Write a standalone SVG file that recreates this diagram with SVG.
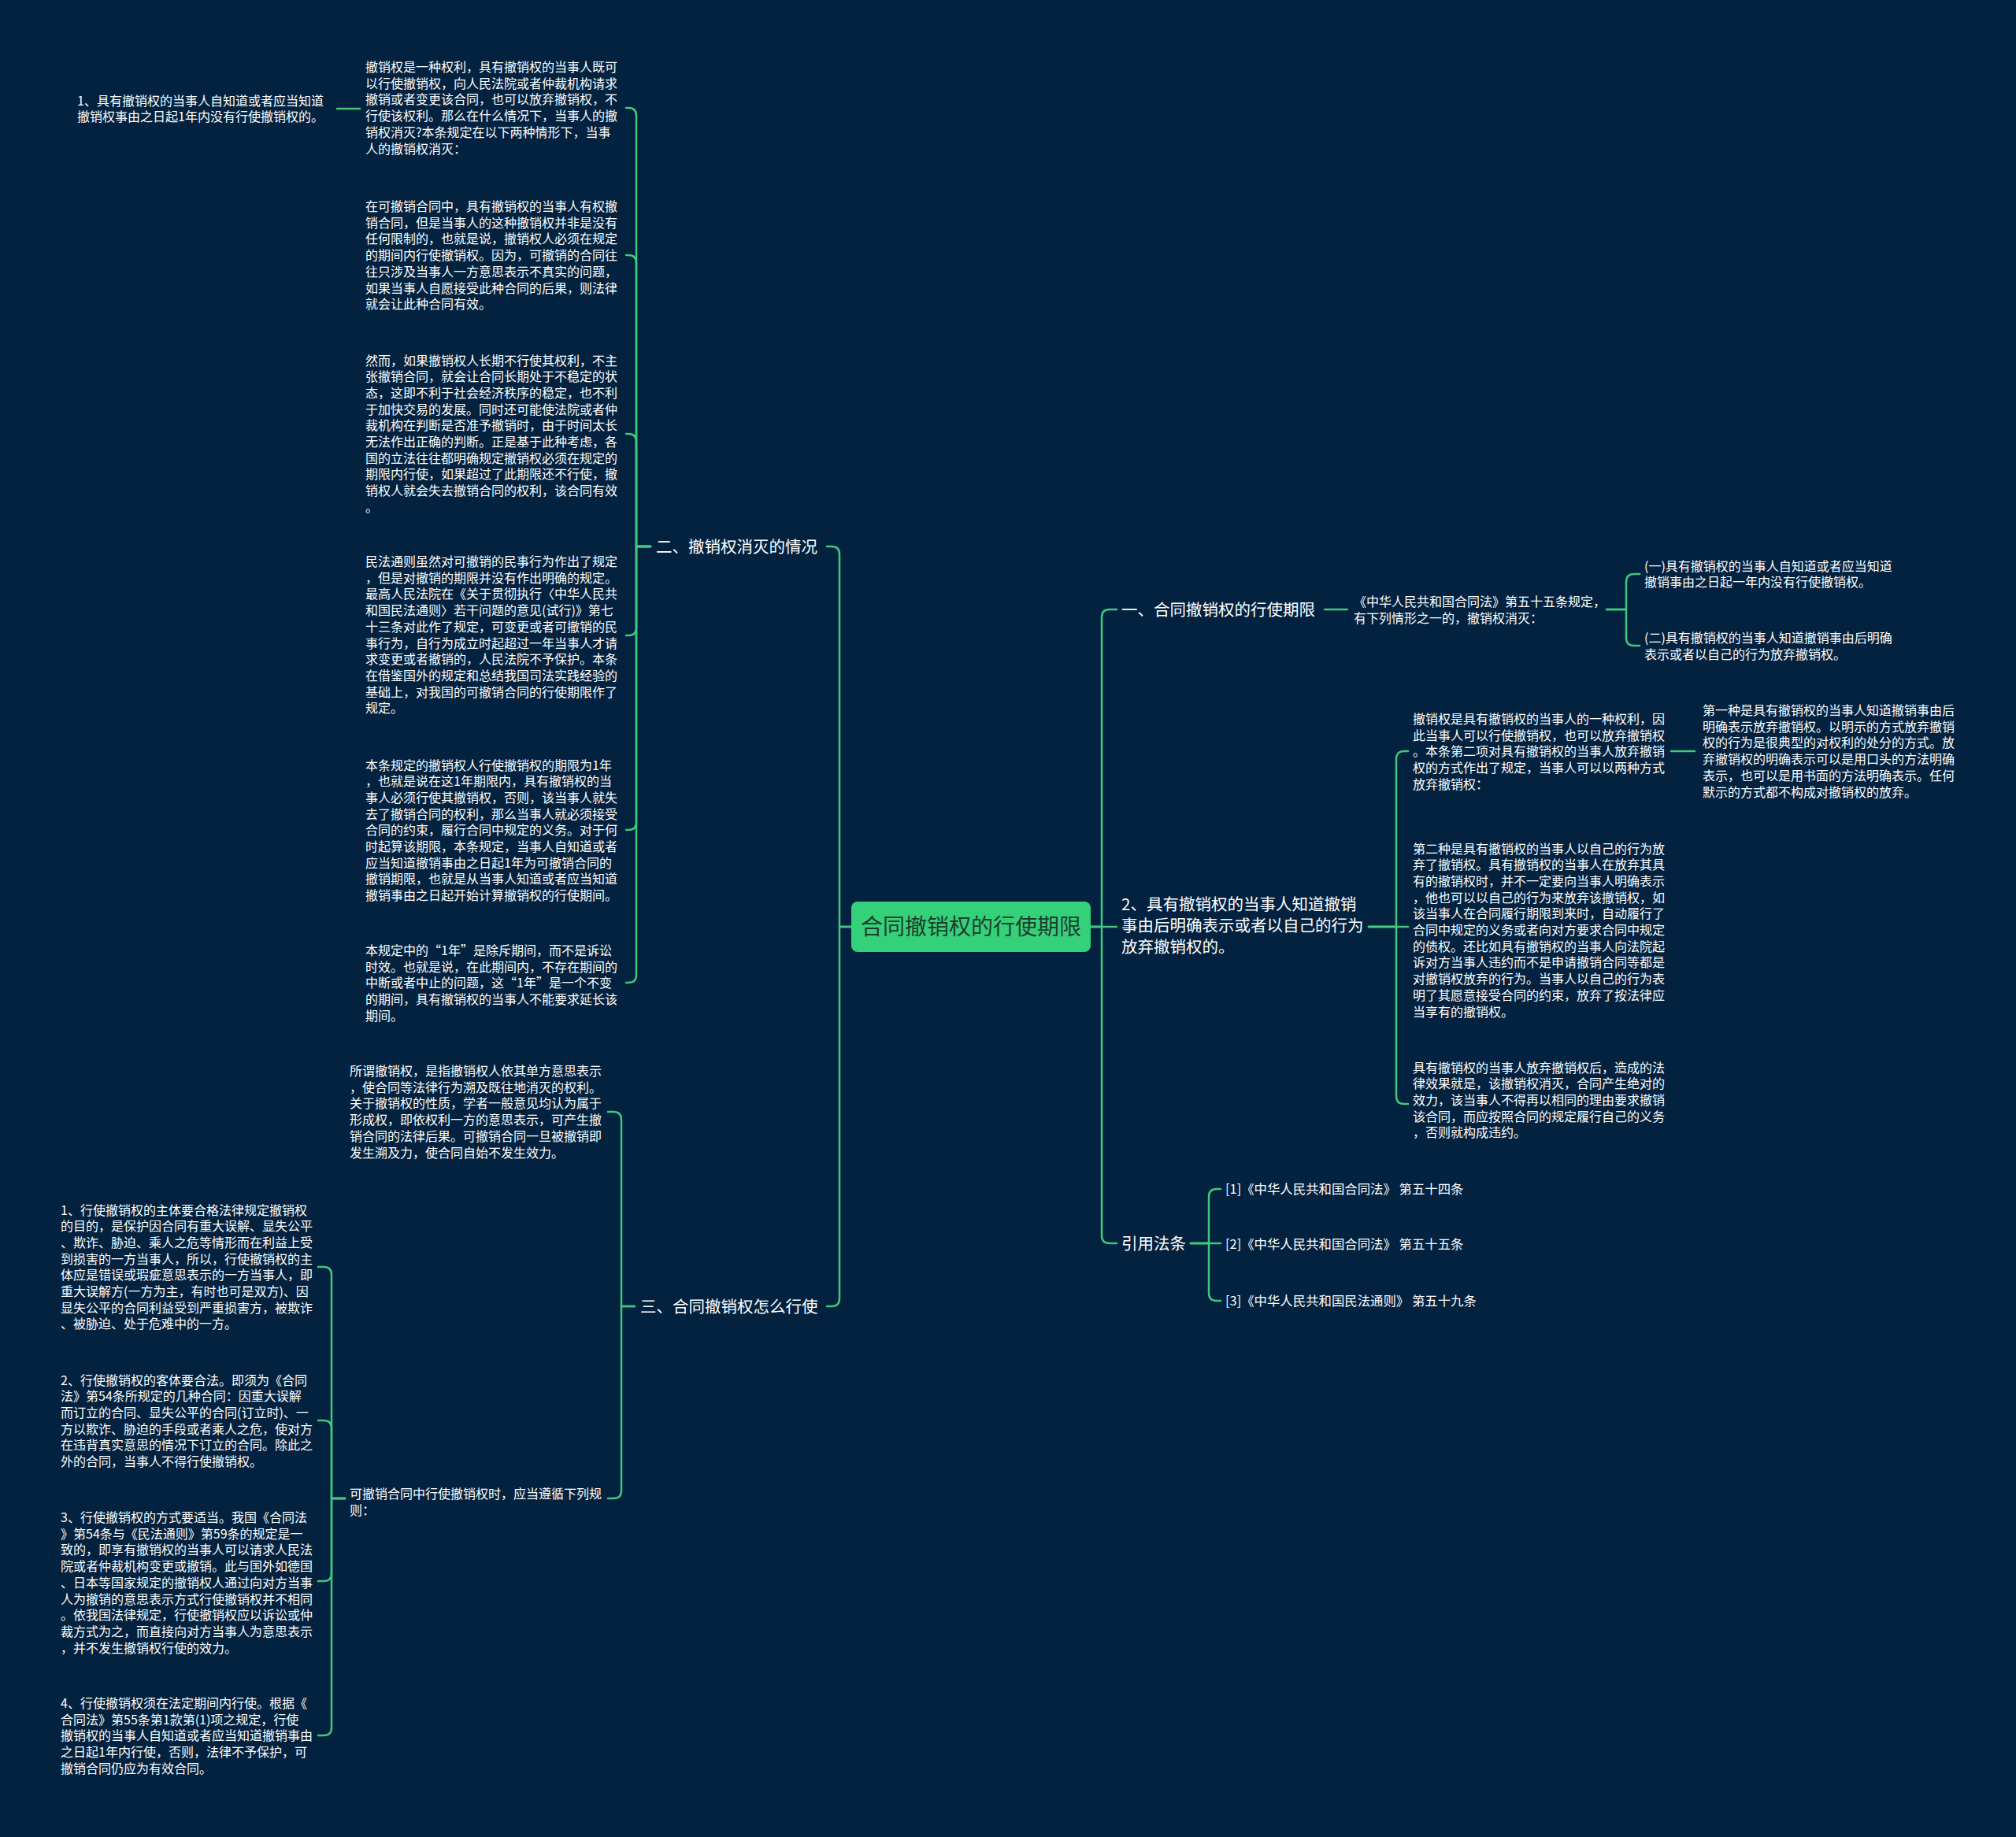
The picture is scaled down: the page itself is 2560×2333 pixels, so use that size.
<svg xmlns="http://www.w3.org/2000/svg" width="2560" height="2333" viewBox="0 0 2560 2333">
<style>
.bg{fill:#02223f}
.t{font-family:"Noto Sans CJK SC","Noto Sans",sans-serif;font-size:16px;fill:#ffffff}
.b{font-size:20.5px}
.r17{font-size:16.4px}
.rt{font-family:"Noto Sans CJK SC","Noto Sans",sans-serif;font-size:28px;fill:#1d3d2c}
.c{fill:none;stroke:#42c77d;stroke-width:2.5;stroke-linecap:round;stroke-linejoin:round}
.rootbox{fill:#35d07a}
</style>
<rect class="bg" x="0" y="0" width="2560" height="2333"/>
<g id="connectors">
<path class="c" d="M1081 1177 H1066 V704 Q1066 694 1056 694 H1050"/>
<path class="c" d="M1081 1177 H1066 V1649 Q1066 1659 1056 1659 H1050"/>
<path class="c" d="M826 694 H808 V147 Q808 137 798 137 H795"/>
<path class="c" d="M826 694 H808 V334 Q808 324 798 324 H795"/>
<path class="c" d="M826 694 H808 V561 Q808 551 798 551 H795"/>
<path class="c" d="M826 694 H808 V797 Q808 807 798 807 H795"/>
<path class="c" d="M826 694 H808 V1044 Q808 1054 798 1054 H795"/>
<path class="c" d="M826 694 H808 V1238 Q808 1248 798 1248 H795"/>
<path class="c" d="M457 138 H428"/>
<path class="c" d="M806 1659 H789 V1422 Q789 1412 779 1412 H772"/>
<path class="c" d="M806 1659 H789 V1893 Q789 1903 779 1903 H772"/>
<path class="c" d="M438 1903 H421 V1619 Q421 1609 411 1609 H404"/>
<path class="c" d="M438 1903 H421 V1814 Q421 1804 411 1804 H404"/>
<path class="c" d="M438 1903 H421 V1998 Q421 2008 411 2008 H404"/>
<path class="c" d="M438 1903 H421 V2194 Q421 2204 411 2204 H404"/>
<path class="c" d="M1385 1177 H1399 V784 Q1399 774 1409 774 H1418"/>
<path class="c" d="M1385 1177 H1418"/>
<path class="c" d="M1385 1177 H1399 V1569 Q1399 1579 1409 1579 H1418"/>
<path class="c" d="M1682 774 H1711"/>
<path class="c" d="M2040 774 H2065 V739 Q2065 729 2075 729 H2082"/>
<path class="c" d="M2040 774 H2065 V810 Q2065 820 2075 820 H2082"/>
<path class="c" d="M1738 1177 H1773 V964 Q1773 954 1783 954 H1788"/>
<path class="c" d="M1738 1177 H1788"/>
<path class="c" d="M1738 1177 H1773 V1392 Q1773 1402 1783 1402 H1788"/>
<path class="c" d="M2122 954 H2152"/>
<path class="c" d="M1512 1579 H1535 V1520 Q1535 1510 1545 1510 H1550"/>
<path class="c" d="M1512 1579 H1550"/>
<path class="c" d="M1512 1579 H1535 V1642 Q1535 1652 1545 1652 H1550"/>
</g>
<g id="root">
<rect class="rootbox" x="1081" y="1145" width="304" height="64" rx="8"/>
<text class="rt" x="1233" y="1187" text-anchor="middle">合同撤销权的行使期限</text>
</g>
<g id="n-er">
<text class="t b" x="833" y="701.5">二、撤销权消灭的情况</text>
</g>
<g id="n-san">
<text class="t b" x="813" y="1666.5">三、合同撤销权怎么行使</text>
</g>
<g id="n-yi">
<text class="t b" x="1424" y="781.5">一、合同撤销权的行使期限</text>
</g>
<g id="n-2">
<text class="t b" x="1424" y="1155.5"><tspan x="1424">2、具有撤销权的当事人知道撤销</tspan><tspan x="1424" dy="27">事由后明确表示或者以自己的行为</tspan><tspan x="1424" dy="27">放弃撤销权的。</tspan></text>
</g>
<g id="n-yinyong">
<text class="t b" x="1424" y="1586.5">引用法条</text>
</g>
<g id="n-b1">
<text class="t" x="464" y="91"><tspan x="464">撤销权是一种权利，具有撤销权的当事人既可</tspan><tspan x="464" dy="20.7">以行使撤销权，向人民法院或者仲裁机构请求</tspan><tspan x="464" dy="20.7">撤销或者变更该合同，也可以放弃撤销权，不</tspan><tspan x="464" dy="20.7">行使该权利。那么在什么情况下，当事人的撤</tspan><tspan x="464" dy="20.7">销权消灭?本条规定在以下两种情形下，当事</tspan><tspan x="464" dy="20.7">人的撤销权消灭：</tspan></text>
</g>
<g id="n-b1a">
<text class="t" x="98" y="133.5"><tspan x="98">1、具有撤销权的当事人自知道或者应当知道</tspan><tspan x="98" dy="20.7">撤销权事由之日起1年内没有行使撤销权的。</tspan></text>
</g>
<g id="n-b2">
<text class="t" x="464" y="268"><tspan x="464">在可撤销合同中，具有撤销权的当事人有权撤</tspan><tspan x="464" dy="20.7">销合同，但是当事人的这种撤销权并非是没有</tspan><tspan x="464" dy="20.7">任何限制的，也就是说，撤销权人必须在规定</tspan><tspan x="464" dy="20.7">的期间内行使撤销权。因为，可撤销的合同往</tspan><tspan x="464" dy="20.7">往只涉及当事人一方意思表示不真实的问题，</tspan><tspan x="464" dy="20.7">如果当事人自愿接受此种合同的后果，则法律</tspan><tspan x="464" dy="20.7">就会让此种合同有效。</tspan></text>
</g>
<g id="n-b3">
<text class="t" x="464" y="463.5"><tspan x="464">然而，如果撤销权人长期不行使其权利，不主</tspan><tspan x="464" dy="20.7">张撤销合同，就会让合同长期处于不稳定的状</tspan><tspan x="464" dy="20.7">态，这即不利于社会经济秩序的稳定，也不利</tspan><tspan x="464" dy="20.7">于加快交易的发展。同时还可能使法院或者仲</tspan><tspan x="464" dy="20.7">裁机构在判断是否准予撤销时，由于时间太长</tspan><tspan x="464" dy="20.7">无法作出正确的判断。正是基于此种考虑，各</tspan><tspan x="464" dy="20.7">国的立法往往都明确规定撤销权必须在规定的</tspan><tspan x="464" dy="20.7">期限内行使，如果超过了此期限还不行使，撤</tspan><tspan x="464" dy="20.7">销权人就会失去撤销合同的权利，该合同有效</tspan><tspan x="464" dy="20.7">。</tspan></text>
</g>
<g id="n-b4">
<text class="t" x="464" y="719"><tspan x="464">民法通则虽然对可撤销的民事行为作出了规定</tspan><tspan x="464" dy="20.7">，但是对撤销的期限并没有作出明确的规定。</tspan><tspan x="464" dy="20.7">最高人民法院在《关于贯彻执行〈中华人民共</tspan><tspan x="464" dy="20.7">和国民法通则〉若干问题的意见(试行)》第七</tspan><tspan x="464" dy="20.7">十三条对此作了规定，可变更或者可撤销的民</tspan><tspan x="464" dy="20.7">事行为，自行为成立时起超过一年当事人才请</tspan><tspan x="464" dy="20.7">求变更或者撤销的，人民法院不予保护。本条</tspan><tspan x="464" dy="20.7">在借鉴国外的规定和总结我国司法实践经验的</tspan><tspan x="464" dy="20.7">基础上，对我国的可撤销合同的行使期限作了</tspan><tspan x="464" dy="20.7">规定。</tspan></text>
</g>
<g id="n-b5">
<text class="t" x="464" y="977.5"><tspan x="464">本条规定的撤销权人行使撤销权的期限为1年</tspan><tspan x="464" dy="20.7">，也就是说在这1年期限内，具有撤销权的当</tspan><tspan x="464" dy="20.7">事人必须行使其撤销权，否则，该当事人就失</tspan><tspan x="464" dy="20.7">去了撤销合同的权利，那么当事人就必须接受</tspan><tspan x="464" dy="20.7">合同的约束，履行合同中规定的义务。对于何</tspan><tspan x="464" dy="20.7">时起算该期限，本条规定，当事人自知道或者</tspan><tspan x="464" dy="20.7">应当知道撤销事由之日起1年为可撤销合同的</tspan><tspan x="464" dy="20.7">撤销期限，也就是从当事人知道或者应当知道</tspan><tspan x="464" dy="20.7">撤销事由之日起开始计算撤销权的行使期间。</tspan></text>
</g>
<g id="n-b6">
<text class="t" x="464" y="1213"><tspan x="464">本规定中的“1年”是除斥期间，而不是诉讼</tspan><tspan x="464" dy="20.7">时效。也就是说，在此期间内，不存在期间的</tspan><tspan x="464" dy="20.7">中断或者中止的问题，这“1年”是一个不变</tspan><tspan x="464" dy="20.7">的期间，具有撤销权的当事人不能要求延长该</tspan><tspan x="464" dy="20.7">期间。</tspan></text>
</g>
<g id="n-sa">
<text class="t" x="444" y="1366"><tspan x="444">所谓撤销权，是指撤销权人依其单方意思表示</tspan><tspan x="444" dy="20.7">，使合同等法律行为溯及既往地消灭的权利。</tspan><tspan x="444" dy="20.7">关于撤销权的性质，学者一般意见均认为属于</tspan><tspan x="444" dy="20.7">形成权，即依权利一方的意思表示，可产生撤</tspan><tspan x="444" dy="20.7">销合同的法律后果。可撤销合同一旦被撤销即</tspan><tspan x="444" dy="20.7">发生溯及力，使合同自始不发生效力。</tspan></text>
</g>
<g id="n-sb">
<text class="t" x="444" y="1903"><tspan x="444">可撤销合同中行使撤销权时，应当遵循下列规</tspan><tspan x="444" dy="20.7">则：</tspan></text>
</g>
<g id="n-i1">
<text class="t" x="77" y="1542.5"><tspan x="77">1、行使撤销权的主体要合格法律规定撤销权</tspan><tspan x="77" dy="20.7">的目的，是保护因合同有重大误解、显失公平</tspan><tspan x="77" dy="20.7">、欺诈、胁迫、乘人之危等情形而在利益上受</tspan><tspan x="77" dy="20.7">到损害的一方当事人，所以，行使撤销权的主</tspan><tspan x="77" dy="20.7">体应是错误或瑕疵意思表示的一方当事人，即</tspan><tspan x="77" dy="20.7">重大误解方(一方为主，有时也可是双方)、因</tspan><tspan x="77" dy="20.7">显失公平的合同利益受到严重损害方，被欺诈</tspan><tspan x="77" dy="20.7">、被胁迫、处于危难中的一方。</tspan></text>
</g>
<g id="n-i2">
<text class="t" x="77" y="1758.5"><tspan x="77">2、行使撤销权的客体要合法。即须为《合同</tspan><tspan x="77" dy="20.7">法》第54条所规定的几种合同：因重大误解</tspan><tspan x="77" dy="20.7">而订立的合同、显失公平的合同(订立时)、一</tspan><tspan x="77" dy="20.7">方以欺诈、胁迫的手段或者乘人之危，使对方</tspan><tspan x="77" dy="20.7">在违背真实意思的情况下订立的合同。除此之</tspan><tspan x="77" dy="20.7">外的合同，当事人不得行使撤销权。</tspan></text>
</g>
<g id="n-i3">
<text class="t" x="77" y="1933"><tspan x="77">3、行使撤销权的方式要适当。我国《合同法</tspan><tspan x="77" dy="20.7">》第54条与《民法通则》第59条的规定是一</tspan><tspan x="77" dy="20.7">致的，即享有撤销权的当事人可以请求人民法</tspan><tspan x="77" dy="20.7">院或者仲裁机构变更或撤销。此与国外如德国</tspan><tspan x="77" dy="20.7">、日本等国家规定的撤销权人通过向对方当事</tspan><tspan x="77" dy="20.7">人为撤销的意思表示方式行使撤销权并不相同</tspan><tspan x="77" dy="20.7">。依我国法律规定，行使撤销权应以诉讼或仲</tspan><tspan x="77" dy="20.7">裁方式为之，而直接向对方当事人为意思表示</tspan><tspan x="77" dy="20.7">，并不发生撤销权行使的效力。</tspan></text>
</g>
<g id="n-i4">
<text class="t" x="77" y="2169"><tspan x="77">4、行使撤销权须在法定期间内行使。根据《</tspan><tspan x="77" dy="20.7">合同法》第55条第1款第(1)项之规定，行使</tspan><tspan x="77" dy="20.7">撤销权的当事人自知道或者应当知道撤销事由</tspan><tspan x="77" dy="20.7">之日起1年内行使，否则，法律不予保护，可</tspan><tspan x="77" dy="20.7">撤销合同仍应为有效合同。</tspan></text>
</g>
<g id="n-y1">
<text class="t" x="1719" y="770"><tspan x="1719">《中华人民共和国合同法》第五十五条规定，</tspan><tspan x="1719" dy="20.7">有下列情形之一的，撤销权消灭：</tspan></text>
</g>
<g id="n-y1a">
<text class="t" x="2088" y="724.5"><tspan x="2088">(一)具有撤销权的当事人自知道或者应当知道</tspan><tspan x="2088" dy="20.7">撤销事由之日起一年内没有行使撤销权。</tspan></text>
</g>
<g id="n-y1b">
<text class="t" x="2088" y="816"><tspan x="2088">(二)具有撤销权的当事人知道撤销事由后明确</tspan><tspan x="2088" dy="20.7">表示或者以自己的行为放弃撤销权。</tspan></text>
</g>
<g id="n-r1">
<text class="t" x="1794" y="919"><tspan x="1794">撤销权是具有撤销权的当事人的一种权利，因</tspan><tspan x="1794" dy="20.7">此当事人可以行使撤销权，也可以放弃撤销权</tspan><tspan x="1794" dy="20.7">。本条第二项对具有撤销权的当事人放弃撤销</tspan><tspan x="1794" dy="20.7">权的方式作出了规定，当事人可以以两种方式</tspan><tspan x="1794" dy="20.7">放弃撤销权：</tspan></text>
</g>
<g id="n-r1a">
<text class="t" x="2162" y="908"><tspan x="2162">第一种是具有撤销权的当事人知道撤销事由后</tspan><tspan x="2162" dy="20.7">明确表示放弃撤销权。以明示的方式放弃撤销</tspan><tspan x="2162" dy="20.7">权的行为是很典型的对权利的处分的方式。放</tspan><tspan x="2162" dy="20.7">弃撤销权的明确表示可以是用口头的方法明确</tspan><tspan x="2162" dy="20.7">表示，也可以是用书面的方法明确表示。任何</tspan><tspan x="2162" dy="20.7">默示的方式都不构成对撤销权的放弃。</tspan></text>
</g>
<g id="n-r2">
<text class="t" x="1794" y="1083.5"><tspan x="1794">第二种是具有撤销权的当事人以自己的行为放</tspan><tspan x="1794" dy="20.7">弃了撤销权。具有撤销权的当事人在放弃其具</tspan><tspan x="1794" dy="20.7">有的撤销权时，并不一定要向当事人明确表示</tspan><tspan x="1794" dy="20.7">，他也可以以自己的行为来放弃该撤销权，如</tspan><tspan x="1794" dy="20.7">该当事人在合同履行期限到来时，自动履行了</tspan><tspan x="1794" dy="20.7">合同中规定的义务或者向对方要求合同中规定</tspan><tspan x="1794" dy="20.7">的债权。还比如具有撤销权的当事人向法院起</tspan><tspan x="1794" dy="20.7">诉对方当事人违约而不是申请撤销合同等都是</tspan><tspan x="1794" dy="20.7">对撤销权放弃的行为。当事人以自己的行为表</tspan><tspan x="1794" dy="20.7">明了其愿意接受合同的约束，放弃了按法律应</tspan><tspan x="1794" dy="20.7">当享有的撤销权。</tspan></text>
</g>
<g id="n-r3">
<text class="t" x="1794" y="1361.5"><tspan x="1794">具有撤销权的当事人放弃撤销权后，造成的法</tspan><tspan x="1794" dy="20.7">律效果就是，该撤销权消灭，合同产生绝对的</tspan><tspan x="1794" dy="20.7">效力，该当事人不得再以相同的理由要求撤销</tspan><tspan x="1794" dy="20.7">该合同，而应按照合同的规定履行自己的义务</tspan><tspan x="1794" dy="20.7">，否则就构成违约。</tspan></text>
</g>
<g id="n-l1">
<text class="t r17" x="1556" y="1516">[1]《中华人民共和国合同法》 第五十四条</text>
</g>
<g id="n-l2">
<text class="t r17" x="1556" y="1586">[2]《中华人民共和国合同法》 第五十五条</text>
</g>
<g id="n-l3">
<text class="t r17" x="1556" y="1658">[3]《中华人民共和国民法通则》 第五十九条</text>
</g>
</svg>
